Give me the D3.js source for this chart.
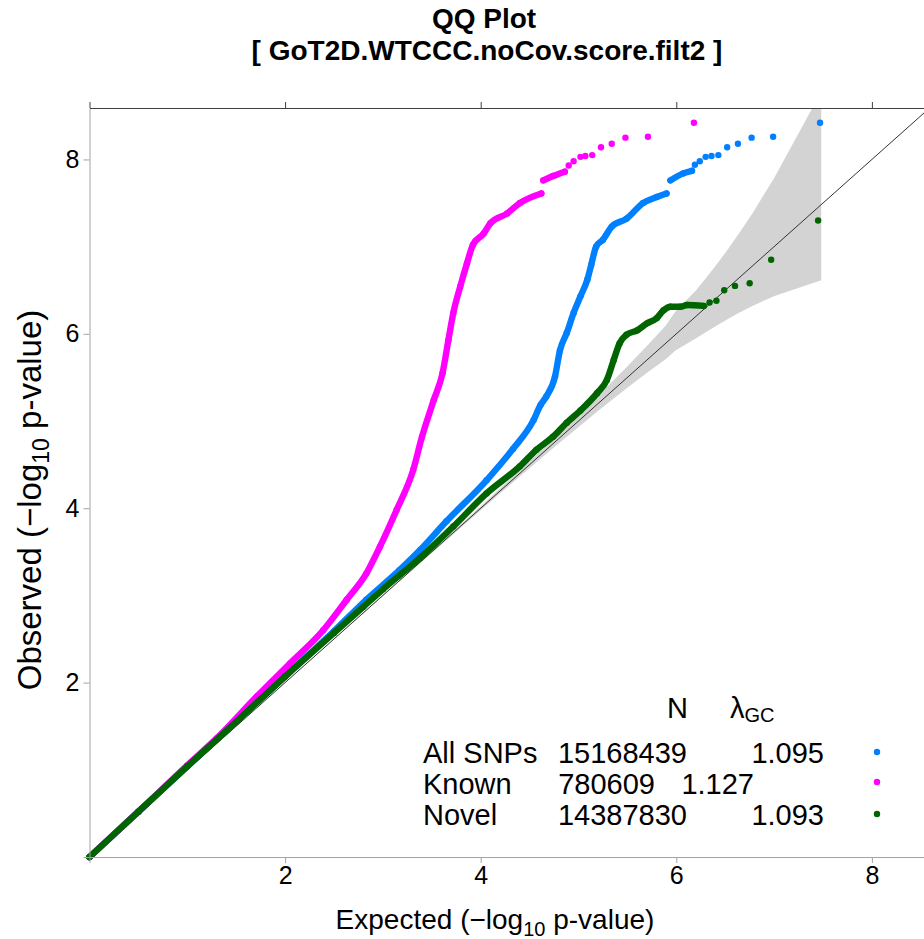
<!DOCTYPE html>
<html>
<head>
<meta charset="utf-8">
<script src="https://cdn.jsdelivr.net/npm/d3@7"></script>
<style>
  body { margin: 0; background: #fff; }
  text { font-family: "Liberation Sans", Arial, Helvetica, sans-serif; }
</style>
</head>
<body>
<div id="chart"></div>
<script>
// QQ plot values: [expected, observed] in -log10 p
// dense runs (null marks a gap between runs), then the separate top points
var allSnpsRun = [[0,0],[0.5,0.52],[1,1.04],[1.5,1.56],[2,2.07],[2.5,2.59],[2.83,2.95],[3.17,3.29],[3.38,3.52],[3.65,3.85],[4.06,4.32],[4.33,4.68],[4.54,5.01],[4.61,5.18],[4.67,5.28],[4.76,5.51],[4.81,5.81],[4.88,6.01],[4.95,6.24],[5.02,6.43],[5.09,6.62],[5.13,6.79],[5.18,7.0],[5.25,7.08],[5.34,7.23],[5.49,7.32],[5.66,7.50],[5.80,7.57],[5.90,7.61],null,[5.94,7.76],[6.07,7.84],[6.16,7.87]];
var allSnpsTop = [[6.19,7.94],[6.24,7.98],[6.30,8.03],[6.36,8.04],[6.43,8.05],[6.52,8.14],[6.63,8.18],[6.77,8.25],[6.99,8.26],[7.47,8.42]];

var knownRun = [[0,0],[0.5,0.52],[1,1.05],[1.30,1.36],[1.71,1.84],[2.05,2.22],[2.39,2.60],[2.63,2.95],[2.83,3.25],[2.97,3.56],[3.14,3.98],[3.31,4.44],[3.40,4.82],[3.52,5.24],[3.61,5.55],[3.67,5.93],[3.72,6.24],[3.79,6.54],[3.86,6.81],[3.92,7.02],[4.03,7.15],[4.10,7.27],[4.27,7.38],[4.40,7.50],[4.62,7.61],null,[4.64,7.76],[4.74,7.81],[4.86,7.86]];
var knownTop = [[4.90,7.93],[4.95,7.98],[5.02,8.03],[5.07,8.04],[5.14,8.05],[5.23,8.14],[5.34,8.18],[5.48,8.25],[5.71,8.26],[6.18,8.42]];

var novelRun = [[0,0],[0.5,0.52],[1,1.04],[1.5,1.55],[2,2.07],[2.5,2.57],[2.8,2.87],[3.0,3.07],[3.38,3.43],[3.72,3.79],[4.06,4.17],[4.40,4.48],[4.57,4.67],[4.74,4.82],[4.88,4.98],[5.02,5.12],[5.19,5.32],[5.29,5.47],[5.36,5.70],[5.42,5.89],[5.49,5.99],[5.60,6.04],[5.70,6.12],[5.80,6.18],[5.87,6.27],[5.94,6.31],[6.04,6.31],[6.11,6.33],[6.28,6.32]];
var novelTop = [[6.34,6.36],[6.41,6.38],[6.49,6.50],[6.60,6.55],[6.75,6.58],[6.97,6.85],[7.45,7.30]];

// 95% band of the expected order statistics (read from the grey area)
var bandExpected = [0, 2.181, 3.181, 4.181, 4.705, 5.183, 5.486, 5.711, 5.891, 5.991, 6.203, 6.306, 6.368, 6.441, 6.528, 6.637, 6.783, 7.005, 7.482];
var bandUpper    = [0, 2.184, 3.189, 4.208, 4.754, 5.271, 5.611, 5.875, 6.094, 6.257, 6.500, 6.643, 6.732, 6.838, 6.970, 7.144, 7.389, 7.797, 8.777];
var bandLower    = [0, 2.178, 3.172, 4.154, 4.656, 5.100, 5.370, 5.561, 5.709, 5.810, 5.948, 6.022, 6.065, 6.114, 6.171, 6.238, 6.322, 6.435, 6.614];

var tickValues = [0, 2, 4, 6, 8];
var legendNames = ["All SNPs", "Known", "Novel"];
var legendN = ["15168439", "780609", "14387830"];
var legendLambda = ["1.095", "1.127", "1.093"];
var seriesColors = ["#0080ff", "#ff00ff", "#006400"];

var width = 924, height = 939;
var panel = {left: 89.5, top: 108, bottom: 857, right: 929.6};

var svg = d3.select("#chart").append("svg")
    .attr("width", width)
    .attr("height", height);

var x = d3.scaleLinear().domain([0, 8.59]).range([panel.left, panel.right]);
var y = d3.scaleLinear().domain([0, 8.59]).range([panel.bottom, panel.top]);

svg.append("clipPath").attr("id", "clip")
  .append("rect")
    .attr("x", panel.left).attr("y", panel.top)
    .attr("width", panel.right - panel.left)
    .attr("height", panel.bottom - panel.top);

//grey band
var band = bandExpected.map(function(e, i) { return {e: e, lo: bandLower[i], hi: bandUpper[i]}; });
svg.append("path")
    .datum(band)
    .attr("clip-path", "url(#clip)")
    .attr("fill", "#d3d3d3")
    .attr("d", d3.area()
        .x(function(d) { return x(d.e); })
        .y0(function(d) { return y(d.lo); })
        .y1(function(d) { return y(d.hi); }));

//identity line
svg.append("path")
    .datum([[0, 0], [8.59, 8.59]])
    .attr("clip-path", "url(#clip)")
    .attr("fill", "none")
    .attr("stroke", "#333")
    .attr("stroke-width", 1)
    .attr("d", d3.line().x(function(d) { return x(d[0]); }).y(function(d) { return y(d[1]); }));

//points: dense runs drawn as a thick stroke of dots, tails as single dots
var runs = [allSnpsRun, knownRun, novelRun];
var tops = [allSnpsTop, knownTop, novelTop];
var r = 3.2;
var runLine = d3.line()
    .defined(function(d) { return d !== null; })
    .curve(d3.curveMonotoneX)
    .x(function(d) { return x(d[0]); })
    .y(function(d) { return y(d[1]); });

runs.forEach(function(run, k) {
  var g = svg.append("g");
  g.append("path")
      .datum(run)
      .attr("fill", "none")
      .attr("stroke", seriesColors[k])
      .attr("stroke-width", 2 * r)
      .attr("stroke-linejoin", "round")
      .attr("stroke-linecap", "round")
      .attr("d", runLine);
  g.selectAll("circle")
      .data(run.filter(function(d) { return d !== null; }).concat(tops[k]))
      .enter()
      .append("circle")
      .attr("cx", function(d) { return x(d[0]); })
      .attr("cy", function(d) { return y(d[1]); })
      .attr("r", r)
      .attr("fill", seriesColors[k]);
});

//axes
var fmt = function(d) { return d === 0 ? "" : d; };

var gBottom = svg.append("g")
    .attr("transform", "translate(0," + panel.bottom + ")")
    .call(d3.axisBottom(x).tickValues(tickValues).tickSize(6).tickSizeOuter(0).tickPadding(3).tickFormat(fmt));
var gLeft = svg.append("g")
    .attr("transform", "translate(" + panel.left + ",0)")
    .call(d3.axisLeft(y).tickValues(tickValues).tickSize(6).tickSizeOuter(0).tickPadding(4).tickFormat(fmt));
var gTop = svg.append("g")
    .attr("transform", "translate(0," + panel.top + ")")
    .call(d3.axisTop(x).tickValues(tickValues).tickSize(6).tickSizeOuter(0).tickFormat(""));
var gRight = svg.append("g")
    .attr("transform", "translate(" + panel.right + ",0)")
    .call(d3.axisRight(y).tickValues(tickValues).tickSize(6).tickSizeOuter(0).tickFormat(""));

[gBottom, gLeft].forEach(function(g) {
  g.selectAll("path, line").attr("stroke", "#a3a3a3");
});
[gTop, gRight].forEach(function(g) {
  g.selectAll("path, line").attr("stroke", "#404040");
});
svg.selectAll(".tick text")
    .attr("font-family", "Liberation Sans, Arial, sans-serif")
    .attr("font-size", 25)
    .attr("fill", "#000");

//title
svg.append("text")
    .attr("x", 484).attr("y", 28)
    .attr("text-anchor", "middle")
    .attr("font-weight", "bold")
    .attr("font-size", 28)
    .text("QQ Plot");
svg.append("text")
    .attr("x", 487).attr("y", 60)
    .attr("text-anchor", "middle")
    .attr("font-weight", "bold")
    .attr("font-size", 28)
    .text("[ GoT2D.WTCCC.noCov.score.filt2 ]");

//axis labels
function axisLabel(sel, word, size) {
  var sub = Math.round(size * 0.7), shift = Math.round(size * 0.25);
  sel.append("tspan").text(word + " (\u2212log");
  sel.append("tspan").attr("font-size", sub).attr("dy", shift).text("10");
  sel.append("tspan").attr("dy", -shift).text(" p-value)");
}
var xl = svg.append("text")
    .attr("x", 495).attr("y", 929)
    .attr("text-anchor", "middle")
    .attr("font-size", 28);
axisLabel(xl, "Expected", 28);

var yl = svg.append("text")
    .attr("transform", "translate(41,500) rotate(-90)")
    .attr("text-anchor", "middle")
    .attr("font-size", 33);
axisLabel(yl, "Observed", 33);

//legend
var lg = svg.append("g").attr("font-size", 29).attr("fill", "#000");
lg.append("text").attr("x", 688).attr("y", 718).attr("text-anchor", "end").text("N");
var lam = lg.append("text").attr("x", 730).attr("y", 718);
lam.append("tspan").text("\u03bb");
lam.append("tspan").attr("font-size", 20).attr("dy", 4).text("GC");

var rowY = [763, 794, 825];
var nEnd = [687, 655, 687];
var lamEnd = [824, 754, 824];
var dotY = [752, 782, 814];
legendNames.forEach(function(name, i) {
  lg.append("text").attr("x", 423).attr("y", rowY[i]).text(name);
  lg.append("text").attr("x", nEnd[i]).attr("y", rowY[i]).attr("text-anchor", "end").text(legendN[i]);
  lg.append("text").attr("x", lamEnd[i]).attr("y", rowY[i]).attr("text-anchor", "end").text(legendLambda[i]);
  lg.append("circle").attr("cx", 877).attr("cy", dotY[i]).attr("r", r).attr("fill", seriesColors[i]);
});
</script>
</body>
</html>
